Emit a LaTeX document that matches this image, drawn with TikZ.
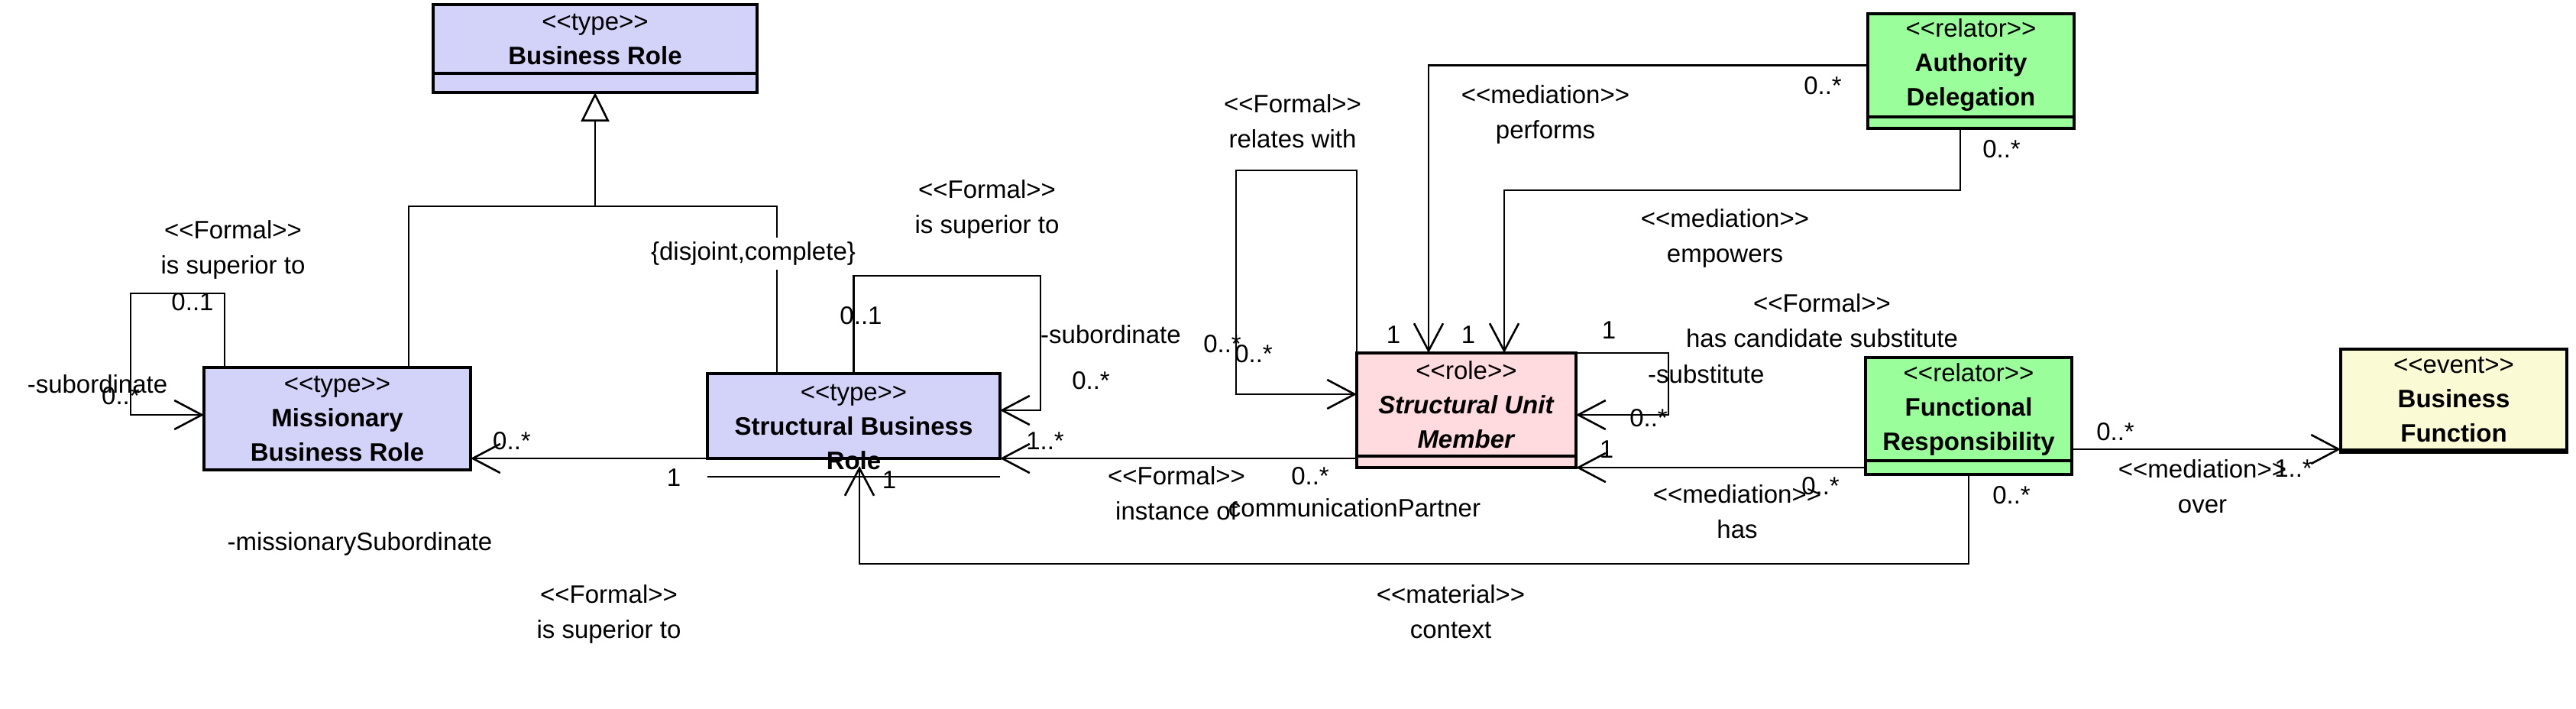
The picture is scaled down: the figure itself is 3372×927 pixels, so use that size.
\documentclass[tikz,border=0pt]{standalone}
\usepackage{fontspec}
\setmainfont{Liberation Sans}
\usetikzlibrary{arrows.meta,positioning}
\definecolor{typeblue}{RGB}{211,211,250}
\definecolor{rolepink}{RGB}{255,218,222}
\definecolor{relgreen}{RGB}{154,255,154}
\definecolor{eventyellow}{RGB}{250,250,212}
\newcommand{\stereo}[1]{<{}<#1>{}>}
\tikzset{
  cls/.style={draw, line width=3.5pt, inner sep=0pt, outer sep=0pt, align=center, font=\fontsize{33}{45}\selectfont},
  attr/.style={draw, line width=3.5pt, inner sep=0pt, outer sep=0pt},
  conn/.style={line width=2.6pt},
  assoc/.style={conn, -{Straight Barb[length=36pt,width=38pt]}},
  gen/.style={conn, -{Triangle[open,length=38pt,width=37pt]}},
  lbl/.style={font=\fontsize{33}{46}\selectfont, inner sep=0pt, align=center}
}
\begin{document}
\begin{tikzpicture}[x=1pt, y=-1pt]
    \useasboundingbox (0,0) rectangle (3372,927);

    % Classes
    \node[cls, fill=typeblue, minimum width=424pt, minimum height=90pt] (br) at (779,51) {\stereo{type}\\\textbf{Business Role}};
    \node[attr, fill=typeblue, minimum width=424pt, minimum height=25pt, below=0pt of br] (brattr) {};
    \node[cls, fill=typeblue, minimum width=349pt, minimum height=134pt] (mbr) at (441.5,548) {\stereo{type}\\\textbf{Missionary}\\\textbf{Business Role}};
    \node[cls, fill=typeblue, minimum width=383pt, minimum height=111pt] (sbr) at (1117.5,544.5) {};
    \node[lbl, font=\fontsize{33}{45}\selectfont] (sbrname) at (1117.5,559) {\stereo{type}\\\textbf{Structural Business}\\\textbf{Role}};
    \node[cls, fill=rolepink, minimum width=287pt, minimum height=135pt] (sum) at (1919.5,529.5) {\stereo{role}\\\textbf{\itshape Structural Unit}\\\textbf{\itshape Member}};
    \node[attr, fill=rolepink, minimum width=287pt, minimum height=15pt, below=0pt of sum] (sumattr) {};
    \node[cls, fill=relgreen, minimum width=270pt, minimum height=135pt] (ad) at (2580,85.5) {\stereo{relator}\\\textbf{Authority}\\\textbf{Delegation}};
    \node[attr, fill=relgreen, minimum width=270pt, minimum height=15pt, below=0pt of ad] (adattr) {};
    \node[cls, fill=relgreen, minimum width=270pt, minimum height=135pt] (fr) at (2577,535.5) {\stereo{relator}\\\textbf{Functional}\\\textbf{Responsibility}};
    \node[attr, fill=relgreen, minimum width=270pt, minimum height=18pt, below=0pt of fr] (frattr) {};
    \node[cls, fill=eventyellow, minimum width=296pt, minimum height=132pt] (bf) at (3212,523) {\stereo{event}\\\textbf{Business}\\\textbf{Function}};
    \node[attr, fill=eventyellow, minimum width=296pt, minimum height=3pt, below=0pt of bf] (bfattr) {};
    \draw[conn] ([yshift=-24pt]sbr.south west) -- ([yshift=-24pt]sbr.south east);

    % Generalization
    \path (brattr.south) ++(0,149) coordinate (gjoin);
    \draw[conn] ([xshift=93.5pt]mbr.north) |- (gjoin) -| ([xshift=-100.5pt]sbr.north);
    \draw[gen] (gjoin) -- (brattr.south);
    \node[lbl, fill=white, inner ysep=6pt] (genset) at (986,332) {\{disjoint,complete\}};

    % Associations
    \draw[assoc] ([xshift=-147.5pt]mbr.north) -- ++(0,-97) -- ++(-123,0) |- ([yshift=5pt]mbr.west);
    \draw[assoc] (sbr.south west) -- (sbr.south west -| mbr.east);
    \draw[assoc] (sbr.north) -- ++(0,-128) -- ++(244.5,0) |- ([yshift=7.5pt]sbr.east);
    \draw[assoc] (sum.west |- sbr.south east) -- (sbr.south east);
    \draw[assoc] (sum.north west) -- ++(0,-239) -- ++(-158,0) |- ([yshift=13.5pt]sum.west);
    \draw[assoc] (ad.west) -| ([xshift=-49.5pt]sum.north);
    \draw[assoc] ([xshift=-14pt]adattr.south) -- ++(0,81) -| ([xshift=49.5pt]sum.north);
    \draw[assoc] (sum.north east) -- ++(121,0) |- ([yshift=-13.5pt]sum.east);
    \draw[assoc] (frattr.west) -- (frattr.west -| sum.east);
    \draw[assoc] (frattr.south) -- ++(0,117) -| ([xshift=7.5pt,yshift=-10pt]sbr.south);
    \draw[assoc] ([yshift=-52.5pt]fr.east) -- ++(352,0);

    % Labels
    \node[lbl] (mloopname) at (305,326.5) {\stereo{Formal}\\is superior to};
    \node[lbl] (mloopsup) at (252,395) {0..1};
    \node[lbl] (mlooprole) at (127.5,503) {-subordinate};
    \node[lbl, anchor=west] (mloopsub) at (133,518) {0..*};

    \node[lbl] (mrelmany) at (670,577) {0..*};
    \node[lbl] (mrelone) at (882,625) {1};
    \node[lbl] (mrelrole) at (471,712) {-missionarySubordinate};
    \node[lbl] (mrelname) at (797,803.5) {\stereo{Formal}\\is superior to};

    \node[lbl] (sloopname) at (1292,273.5) {\stereo{Formal}\\is superior to};
    \node[lbl] (sloopsup) at (1127,413) {0..1};
    \node[lbl, anchor=west] (slooprole) at (1362,438) {-subordinate};
    \node[lbl] (sloopsub) at (1428,498) {0..*};

    \node[lbl] (instmany) at (1368,577) {1..*};
    \node[lbl] (instname) at (1540,646) {\stereo{Formal}\\instance of};
    \node[lbl] (instpart) at (1715,623) {0..*};
    \node[lbl] (instrole) at (1773,665) {communicationPartner};

    \node[lbl] (relname) at (1692,159) {\stereo{Formal}\\relates with};
    \node[lbl] (relmanya) at (1600,450) {0..*};
    \node[lbl] (relmanyb) at (1641,463) {0..*};

    \node[lbl] (perfmany) at (2386,112) {0..*};
    \node[lbl] (perfname) at (2023,150) {\stereo{mediation}\\performs};
    \node[lbl] (perfone) at (1824,438) {1};

    \node[lbl] (empmany) at (2620,195) {0..*};
    \node[lbl] (empname) at (2258,311.5) {\stereo{mediation}\\empowers};
    \node[lbl] (empone) at (1922,438) {1};

    \node[lbl] (subone) at (2106,432) {1};
    \node[lbl] (subname) at (2385,419.5) {\stereo{Formal}\\has candidate substitute};
    \node[lbl, anchor=west] (subrole) at (2157,490) {-substitute};
    \node[lbl] (submany) at (2158,547) {0..*};

    \node[lbl] (hasone) at (2103,588) {1};
    \node[lbl] (hasname) at (2274,669.5) {\stereo{mediation}\\has};
    \node[lbl] (hasmany) at (2383,636) {0..*};

    \node[lbl] (ctxname) at (1899,800.5) {\stereo{material}\\context};
    \node[lbl] (ctxmany) at (2633,648) {0..*};
    \node[lbl] (ctxone) at (1164,628) {1};

    \node[lbl] (overmany) at (2769,565) {0..*};
    \node[lbl] (overname) at (2883,636.5) {\stereo{mediation}\\over};
    \node[lbl] (overfunc) at (3002,613) {1..*};
\end{tikzpicture}
\end{document}
